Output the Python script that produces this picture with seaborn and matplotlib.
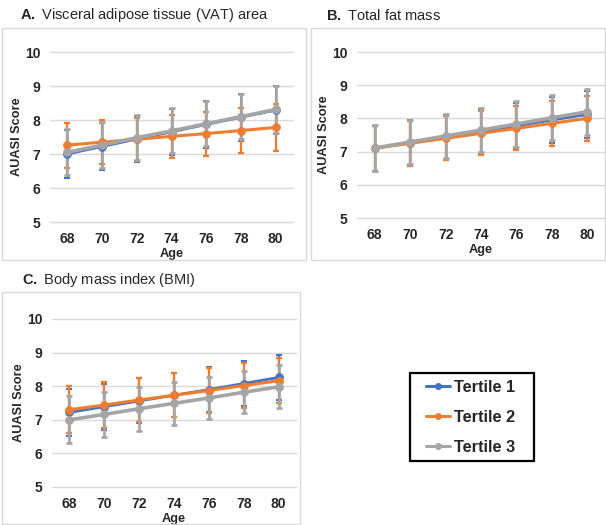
import numpy as np
import pandas as pd
import matplotlib
matplotlib.use("Agg")
from matplotlib import pyplot as plt
from matplotlib.lines import Line2D
from matplotlib.patches import Rectangle
import seaborn as sns

# data
ages = [68, 70, 72, 74, 76, 78, 80]
tertiles = ["Tertile 1", "Tertile 2", "Tertile 3"]

vat_t1 = [7.00, 7.22, 7.44, 7.65, 7.87, 8.08, 8.29]
vat_t2 = [7.26, 7.35, 7.43, 7.52, 7.60, 7.69, 7.78]
vat_t3 = [7.05, 7.26, 7.48, 7.68, 7.89, 8.10, 8.31]
vat_t1_err = [0.72, 0.70, 0.68, 0.67, 0.68, 0.69, 0.70]
vat_t2_err = [0.66, 0.65, 0.64, 0.64, 0.65, 0.66, 0.68]
vat_t3_err = [0.68, 0.67, 0.66, 0.66, 0.66, 0.67, 0.68]

fat_t1 = [7.10, 7.27, 7.43, 7.60, 7.78, 7.95, 8.12]
fat_t2 = [7.10, 7.25, 7.40, 7.55, 7.70, 7.85, 8.00]
fat_t3 = [7.11, 7.29, 7.47, 7.65, 7.83, 8.02, 8.20]
fat_t1_err = [0.68, 0.67, 0.67, 0.67, 0.68, 0.68, 0.70]
fat_t2_err = [0.68, 0.67, 0.66, 0.66, 0.66, 0.67, 0.68]
fat_t3_err = [0.68, 0.67, 0.67, 0.66, 0.68, 0.68, 0.70]

bmi_t1 = [7.22, 7.39, 7.56, 7.73, 7.90, 8.08, 8.26]
bmi_t2 = [7.30, 7.44, 7.59, 7.73, 7.87, 8.02, 8.16]
bmi_t3 = [7.00, 7.16, 7.33, 7.49, 7.65, 7.82, 7.98]
bmi_t1_err = [0.70, 0.68, 0.67, 0.66, 0.66, 0.67, 0.68]
bmi_t2_err = [0.70, 0.68, 0.66, 0.65, 0.66, 0.66, 0.67]
bmi_t3_err = [0.70, 0.67, 0.65, 0.63, 0.63, 0.63, 0.64]

colors = ["#4472C4", "#ED7D31", "#A5A5A5"]
widths = [2.0, 2.2, 2.6]

sns.set_theme(style="white")
plt.rcParams["font.family"] = ["Liberation Sans", "DejaVu Sans"]
plt.rcParams["mathtext.fontset"] = "custom"
plt.rcParams["mathtext.bf"] = "Liberation Sans:bold"
plt.rcParams["mathtext.rm"] = "Liberation Sans"

W, H = 606, 525
fig = plt.figure(figsize=(W / 100, H / 100), dpi=100)


def px_axes(left, right, top, bottom):
    return fig.add_axes([left / W, 1 - bottom / H, (right - left) / W, (bottom - top) / H])


def panel(ax, series, errs):
    rows = []
    for name, vals in zip(tertiles, series):
        for a, v in zip(ages, vals):
            rows.append({"Age": a, "Score": v, "Tertile": name})
    df = pd.DataFrame(rows)
    for name, vals, err, c, lw in zip(tertiles, series, errs, colors, widths):
        ax.errorbar(ages, vals, yerr=err, fmt="none", ecolor=c, elinewidth=lw * 0.75,
                    capsize=2.3, capthick=lw * 0.75, zorder=2)
        sns.lineplot(data=df[df["Tertile"] == name], x="Age", y="Score", color=c,
                     linewidth=lw, marker="o", markersize=5.5, markeredgecolor=c,
                     ax=ax, legend=False, zorder=3)
    ax.set_xlim(67, 81)
    ax.set_ylim(5, 10)
    ax.set_xticks(ages)
    ax.set_yticks([5, 6, 7, 8, 9, 10])
    for sp in ax.spines.values():
        sp.set_visible(False)
    ax.grid(axis="y", color="#D9D9D9", linewidth=1)
    ax.grid(axis="x", visible=False)
    ax.tick_params(length=0, labelsize=10, pad=7)
    for lab in ax.get_xticklabels() + ax.get_yticklabels():
        lab.set_fontweight("bold")
    ax.set_xlabel("Age", fontsize=9.2, fontweight="bold", labelpad=1.5)
    ax.set_ylabel("AUASI Score", fontsize=9.2, fontweight="bold", labelpad=1)
    for ln in ax.get_ygridlines():
        ln.set_clip_on(False)


# panel frames
for (x0, y0, x1, y1) in [(2, 28, 306, 260), (311, 28, 605, 260), (2, 292, 300, 524)]:
    fig.patches.append(Rectangle((x0 / W, 1 - y1 / H), (x1 - x0) / W, (y1 - y0) / H,
                                 transform=fig.transFigure, fill=False,
                                 edgecolor="#D9D9D9", linewidth=1))

axA = px_axes(50, 293, 52, 222)
panel(axA, [vat_t1, vat_t2, vat_t3], [vat_t1_err, vat_t2_err, vat_t3_err])
axB = px_axes(357, 605, 52, 218)
panel(axB, [fat_t1, fat_t2, fat_t3], [fat_t1_err, fat_t2_err, fat_t3_err])
axC = px_axes(52, 296, 319, 487)
panel(axC, [bmi_t1, bmi_t2, bmi_t3], [bmi_t1_err, bmi_t2_err, bmi_t3_err])

fig.text(20 / W, 1 - 15 / H, r"$\bf{A.}$ Visceral adipose tissue (VAT) area",
         fontsize=10.5, va="center", ha="left")
fig.text(326 / W, 1 - 15 / H, r"$\bf{B.}$ Total fat mass",
         fontsize=10.5, va="center", ha="left")
fig.text(22 / W, 1 - 280 / H, r"$\bf{C.}$ Body mass index (BMI)",
         fontsize=10.5, va="center", ha="left")

# legend box drawn separately so the padding matches
fig.patches.append(Rectangle((410 / W, 1 - 461 / H), 124 / W, 88 / H,
                             transform=fig.transFigure, fill=False,
                             edgecolor="black", linewidth=1.6, zorder=5))
handles = [Line2D([0], [0], color=c, linewidth=2.2, marker="o", markersize=4,
                  markeredgecolor=c) for c in colors]
leg = fig.legend(handles, tertiles, loc="upper left",
                 bbox_to_anchor=(426 / W, 1 - 380 / H),
                 prop={"weight": "bold", "size": 11.8},
                 frameon=False, handlelength=1.45, handletextpad=0.25,
                 labelspacing=0.9, borderpad=0, borderaxespad=0)

fig.savefig("out.png", dpi=100)
